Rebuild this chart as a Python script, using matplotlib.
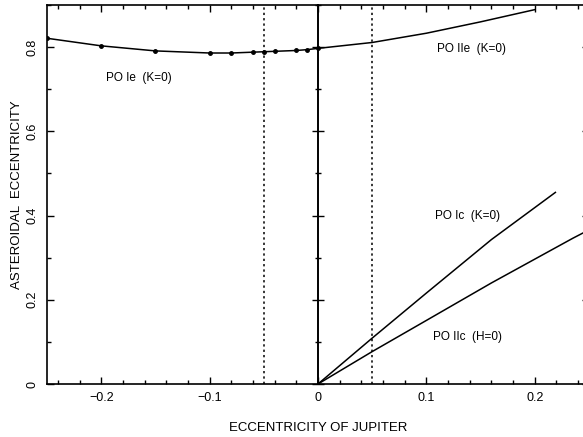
import matplotlib
matplotlib.use('Agg')
import matplotlib.pyplot as plt
from matplotlib.ticker import MultipleLocator

plt.rcParams['font.family'] = ['Liberation Sans', 'DejaVu Sans']

# PO Ie (K=0), left half, sampled points
ie_x = [-0.25, -0.2, -0.15, -0.1, -0.08, -0.06, -0.05, -0.04, -0.02, -0.01, 0.0]
ie_y = [0.821, 0.803, 0.791, 0.786, 0.786, 0.788, 0.789, 0.790, 0.792, 0.794, 0.797]

# PO IIe (K=0)
iie_x = [0.0, 0.05, 0.1, 0.15, 0.2]
iie_y = [0.797, 0.811, 0.833, 0.860, 0.889]

# PO Ic (K=0)
ic_x = [0.0, 0.05, 0.1, 0.16, 0.219]
ic_y = [0.0, 0.109, 0.216, 0.343, 0.455]

# PO IIc (H=0)
iic_x = [0.0, 0.05, 0.1, 0.16, 0.235, 0.25]
iic_y = [0.0, 0.077, 0.151, 0.240, 0.346, 0.366]

xticks = [-0.2, -0.1, 0, 0.1, 0.2]
xtick_labels = ['\u22120.2', '\u22120.1', '0', '0.1', '0.2']
yticks = [0, 0.2, 0.4, 0.6, 0.8]
ytick_labels = ['0', '0.2', '0.4', '0.6', '0.8']

fig = plt.figure(figsize=(5.83, 4.37), dpi=100)
ax = fig.add_axes([47/583, 53/437, 542/583, 379/437])

ax.plot(ie_x, ie_y, color='black', lw=1.1, marker='o', ms=2.5)
ax.plot(iie_x, iie_y, color='black', lw=1.1)
ax.plot(ic_x, ic_y, color='black', lw=1.1)
ax.plot(iic_x, iic_y, color='black', lw=1.1)

ax.axvline(-0.05, color='black', lw=1.1, ls=(0, (1.5, 2)))
ax.axvline(0.05, color='black', lw=1.1, ls=(0, (1.5, 2)))

ax.set_xlim(-0.25, 0.25)
ax.set_ylim(0, 0.9)
ax.set_xticks(xticks)
ax.set_xticklabels(xtick_labels, fontsize=9)
ax.set_yticks(yticks)
ax.set_yticklabels(ytick_labels, fontsize=9, rotation=90, va='center')
ax.xaxis.set_minor_locator(MultipleLocator(0.02))
ax.yaxis.set_minor_locator(MultipleLocator(0.1))
ax.tick_params(which='both', direction='in', top=True, right=True, width=1)
ax.tick_params(which='major', length=5, pad=6)
ax.tick_params(which='minor', length=3)
for s in ax.spines.values():
    s.set_linewidth(1.2)

# central axis at e_J = 0
ax2 = fig.add_axes(ax.get_position(), sharey=ax)
ax2.patch.set_visible(False)
ax2.set_xlim(ax.get_xlim())
for side in ['top', 'right', 'bottom']:
    ax2.spines[side].set_visible(False)
ax2.spines['left'].set_position(('data', 0))
ax2.spines['left'].set_linewidth(1.4)
ax2.xaxis.set_visible(False)
ax2.yaxis.set_ticks_position('left')
ax2.tick_params(axis='y', which='both', direction='inout', labelleft=False, width=1)
ax2.tick_params(axis='y', which='major', length=8)
ax2.tick_params(axis='y', which='minor', length=5)

ax.text(-0.165, 0.726, 'PO Ie  (K=0)', fontsize=8.5, ha='center', va='center')
ax.text(0.142, 0.795, 'PO IIe  (K=0)', fontsize=8.5, ha='center', va='center')
ax.text(0.138, 0.400, 'PO Ic  (K=0)', fontsize=8.5, ha='center', va='center')
ax.text(0.138, 0.112, 'PO IIc  (H=0)', fontsize=8.5, ha='center', va='center')

ax.set_xlabel('ECCENTRICITY OF JUPITER', fontsize=9.5, labelpad=13)
ax.set_ylabel('ASTEROIDAL  ECCENTRICITY', fontsize=9.5, labelpad=3)

fig.savefig('out.png', dpi=100)
